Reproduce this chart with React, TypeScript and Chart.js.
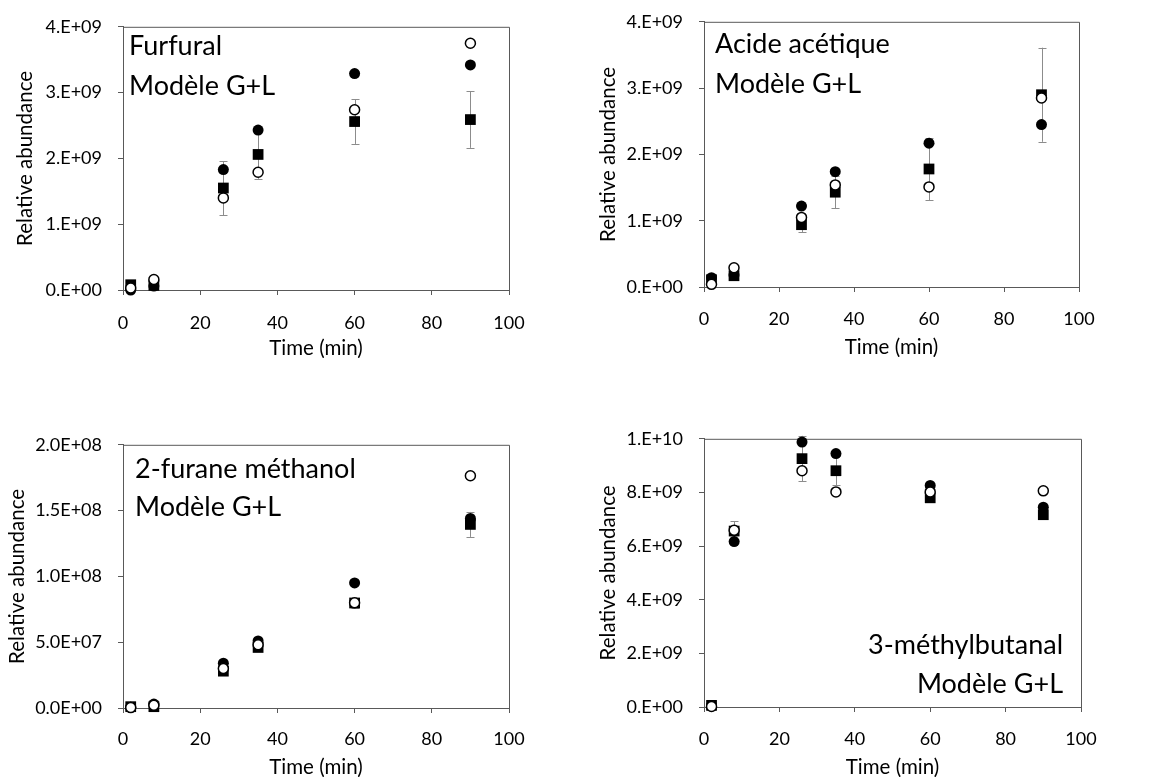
import React, { useEffect, useRef } from "react";
import { Chart, registerables } from "chart.js";

Chart.register(...registerables);

// ---------- data ----------
const timeMin = [2, 8, 26, 35, 60, 90];
const xTicks = [0, 20, 40, 60, 80, 100];

const furfuralFilled = [0.0e9, 0.06e9, 1.83e9, 2.43e9, 3.29e9, 3.42e9];
const furfuralOpen = [0.03e9, 0.16e9, 1.4e9, 1.79e9, 2.74e9, 3.75e9];
const furfuralSquare = [0.08e9, 0.07e9, 1.55e9, 2.06e9, 2.56e9, 2.59e9];
const furfuralErr = [0.02e9, 0.02e9, 0.41e9, 0.37e9, 0.34e9, 0.43e9];
const furfuralYTicks = [0, 1e9, 2e9, 3e9, 4e9];
const furfuralYLabels = ["0.E+00", "1.E+09", "2.E+09", "3.E+09", "4.E+09"];

const acideFilled = [0.14e9, 0.18e9, 1.22e9, 1.74e9, 2.17e9, 2.45e9];
const acideOpen = [0.04e9, 0.29e9, 1.05e9, 1.54e9, 1.51e9, 2.85e9];
const acideSquare = [0.11e9, 0.17e9, 0.94e9, 1.43e9, 1.78e9, 2.9e9];
const acideErr = [0.03e9, 0.03e9, 0.11e9, 0.24e9, 0.47e9, 0.71e9];
const acideYTicks = [0, 1e9, 2e9, 3e9, 4e9];
const acideYLabels = ["0.E+00", "1.E+09", "2.E+09", "3.E+09", "4.E+09"];

const furaneFilled = [0.5e6, 3.0e6, 3.4e7, 5.1e7, 9.5e7, 1.44e8];
const furaneOpen = [0.3e6, 2.0e6, 3.0e7, 4.8e7, 8.0e7, 1.765e8];
const furaneSquare = [1.0e6, 1.0e6, 2.8e7, 4.6e7, 7.98e7, 1.395e8];
const furaneErr = [0.2e6, 0.5e6, 1.5e6, 2.0e6, 3.5e6, 9.5e6];
const furaneYTicks = [0, 5e7, 1e8, 1.5e8, 2e8];
const furaneYLabels = ["0.0E+00", "5.0E+07", "1.0E+08", "1.5E+08", "2.0E+08"];

const methylFilled = [0.05e9, 6.17e9, 9.88e9, 9.45e9, 8.26e9, 7.45e9];
const methylOpen = [0.02e9, 6.59e9, 8.81e9, 8.02e9, 8.02e9, 8.06e9];
const methylSquare = [0.06e9, 6.56e9, 9.26e9, 8.81e9, 7.8e9, 7.17e9];
const methylErr = [0.02e9, 0.37e9, 0.85e9, 0.55e9, 0.1e9, 0.1e9];
const methylYTicks = [0, 2e9, 4e9, 6e9, 8e9, 1e10];
const methylYLabels = ["0.E+00", "2.E+09", "4.E+09", "6.E+09", "8.E+09", "1.E+10"];

const xTitle = "Time (min)";
const yTitle = "Relative abundance";

// ---------- layout ----------
const FONT = "Lato, 'Open Sans', sans-serif";
const AXIS = "#595959";
const TICK_SIZE = 18;
const TITLE_SIZE = 20.5;
const NOTE_SIZE = 27;

type Panel = {
  lines: string[];
  filled: number[];
  open: number[];
  square: number[];
  err: number[];
  yTicks: number[];
  yLabels: string[];
  area: { l: number; t: number; r: number; b: number };
  yTitleX: number;
  xTitleY: number;
  xPad: number;
  text: { align: "left" | "right"; dx: number; y1: number; y2: number };
};

const panels: Panel[] = [
  {
    lines: ["Furfural", "Modèle G+L"],
    filled: furfuralFilled, open: furfuralOpen, square: furfuralSquare, err: furfuralErr,
    yTicks: furfuralYTicks, yLabels: furfuralYLabels,
    area: { l: 123, t: 20, r: 509, b: 290 }, yTitleX: 25, xTitleY: 348, xPad: 17,
    text: { align: "left", dx: 6, y1: 19, y2: 59 },
  },
  {
    lines: ["Acide acétique", "Modèle G+L"],
    filled: acideFilled, open: acideOpen, square: acideSquare, err: acideErr,
    yTicks: acideYTicks, yLabels: acideYLabels,
    area: { l: 704, t: 15, r: 1079, b: 287 }, yTitleX: 608, xTitleY: 347, xPad: 16,
    text: { align: "left", dx: 11, y1: 22, y2: 62 },
  },
  {
    lines: ["2-furane méthanol", "Modèle G+L"],
    filled: furaneFilled, open: furaneOpen, square: furaneSquare, err: furaneErr,
    yTicks: furaneYTicks, yLabels: furaneYLabels,
    area: { l: 123, t: 438, r: 509, b: 708 }, yTitleX: 17, xTitleY: 767, xPad: 15,
    text: { align: "left", dx: 12, y1: 24, y2: 62 },
  },
  {
    lines: ["3-méthylbutanal", "Modèle G+L"],
    filled: methylFilled, open: methylOpen, square: methylSquare, err: methylErr,
    yTicks: methylYTicks, yLabels: methylYLabels,
    area: { l: 704, t: 432, r: 1081, b: 707 }, yTitleX: 608, xTitleY: 767, xPad: 16,
    text: { align: "right", dx: -18, y1: 206, y2: 245 },
  },
];

const PAD_TOP = 20;
const PAD_RIGHT = 55;

function ChartPanel({ p }: { p: Panel }) {
  const ref = useRef<HTMLCanvasElement | null>(null);
  const left = p.yTitleX - 10;
  const top = p.area.t - PAD_TOP;
  const width = p.area.r + PAD_RIGHT - left;
  const height = p.xTitleY + 10 - top;
  const yWidth = p.area.l - left;
  const xHeight = p.xTitleY + 10 - p.area.b;

  useEffect(() => {
    if (!ref.current) return;
    const pts = (vals: number[]) => vals.map((v, i) => ({ x: timeMin[i], y: v }));

    const framePlugin = {
      id: "frame",
      beforeDatasetsDraw(chart: any) {
        const { ctx, chartArea: a, scales } = chart;
        ctx.save();
        ctx.strokeStyle = AXIS;
        ctx.lineWidth = 1;
        ctx.beginPath();
        ctx.moveTo(a.left, a.top + 0.5);
        ctx.lineTo(a.right + 0.5, a.top + 0.5);
        ctx.lineTo(a.right + 0.5, a.bottom);
        ctx.stroke();
        // error bars (square series)
        const ds = chart.data.datasets[1];
        const errs: number[] = ds.errors;
        ctx.strokeStyle = "#8c8c8c";
        ctx.lineWidth = 1;
        ds.data.forEach((d: any, i: number) => {
          const e = errs[i];
          const x = Math.round(scales.x.getPixelForValue(d.x)) + 0.5;
          const y1 = scales.y.getPixelForValue(d.y + e);
          const y2 = scales.y.getPixelForValue(d.y - e);
          if (Math.abs(y2 - y1) < 4) return;
          ctx.beginPath();
          ctx.moveTo(x, y1);
          ctx.lineTo(x, y2);
          ctx.moveTo(x - 4, Math.round(y1) + 0.5);
          ctx.lineTo(x + 4, Math.round(y1) + 0.5);
          ctx.moveTo(x - 4, Math.round(y2) + 0.5);
          ctx.lineTo(x + 4, Math.round(y2) + 0.5);
          ctx.stroke();
        });
        ctx.restore();
      },
      afterDraw(chart: any) {
        const { ctx, chartArea: a } = chart;
        ctx.save();
        ctx.fillStyle = "#000";
        ctx.font = `${NOTE_SIZE}px ${FONT}`;
        ctx.textBaseline = "middle";
        ctx.textAlign = p.text.align;
        const x = p.text.align === "left" ? a.left + p.text.dx : a.right + p.text.dx;
        ctx.fillText(p.lines[0], x, a.top + p.text.y1);
        ctx.fillText(p.lines[1], x, a.top + p.text.y2);
        ctx.restore();
      },
    };

    const titleFont = { family: FONT, size: TITLE_SIZE, lineHeight: 20 / TITLE_SIZE };
    const tickFont = { family: FONT, size: TICK_SIZE };

    const chart = new Chart(ref.current, {
      type: "scatter",
      data: {
        datasets: [
          {
            label: "open",
            data: pts(p.open),
            pointStyle: "circle",
            pointRadius: 5,
            pointBackgroundColor: "#ffffff",
            pointBorderColor: "#000000",
            pointBorderWidth: 1.5,
            showLine: false,
            clip: false,
          },
          {
            label: "square",
            data: pts(p.square),
            errors: p.err,
            pointStyle: "rect",
            pointRadius: 7.6,
            pointBackgroundColor: "#000000",
            pointBorderColor: "#000000",
            pointBorderWidth: 0,
            showLine: false,
            clip: false,
          } as any,
          {
            label: "filled",
            data: pts(p.filled),
            pointStyle: "circle",
            pointRadius: 5.5,
            pointBackgroundColor: "#000000",
            pointBorderColor: "#000000",
            pointBorderWidth: 0,
            showLine: false,
            clip: false,
          },
        ],
      },
      options: {
        responsive: false,
        animation: false,
        devicePixelRatio: 1,
        layout: { padding: { top: PAD_TOP, right: PAD_RIGHT, left: 0, bottom: 0 } },
        plugins: { legend: { display: false }, tooltip: { enabled: false } },
        events: [],
        scales: {
          x: {
            type: "linear",
            min: 0,
            max: 100,
            afterBuildTicks: (s: any) => { s.ticks = xTicks.map((v) => ({ value: v })); },
            afterFit: (s: any) => { s.height = xHeight; },
            ticks: { color: "#000", font: tickFont, padding: p.xPad, maxRotation: 0, autoSkip: false },
            grid: { drawOnChartArea: false, drawTicks: true, tickLength: 5, color: AXIS },
            border: { color: AXIS, width: 1 },
            title: { display: true, text: xTitle, color: "#000", font: titleFont, padding: 0 },
          },
          y: {
            type: "linear",
            min: p.yTicks[0],
            max: p.yTicks[p.yTicks.length - 1],
            afterBuildTicks: (s: any) => { s.ticks = p.yTicks.map((v) => ({ value: v })); },
            afterFit: (s: any) => { s.width = yWidth; },
            ticks: {
              color: "#000",
              font: tickFont,
              padding: 16,
              autoSkip: false,
              callback: (v: any) => {
                const i = p.yTicks.indexOf(Number(v));
                return i >= 0 ? p.yLabels[i] : "";
              },
            },
            grid: { drawOnChartArea: false, drawTicks: true, tickLength: 5, color: AXIS },
            border: { color: AXIS, width: 1 },
            title: { display: true, text: yTitle, color: "#000", font: titleFont, padding: 0 },
          },
        },
      } as any,
      plugins: [framePlugin],
    });
    return () => chart.destroy();
  }, []);

  return (
    <canvas
      ref={ref}
      width={width}
      height={height}
      style={{ position: "absolute", left, top, width, height }}
    />
  );
}

export default function App() {
  return (
    <div style={{ position: "relative", width: 1164, height: 780, background: "#fff" }}>
      <div style={{ position: "absolute", left: -8, top: -8, width: 1164, height: 780 }}>
        {panels.map((p, i) => (
          <ChartPanel key={i} p={p} />
        ))}
      </div>
    </div>
  );
}
